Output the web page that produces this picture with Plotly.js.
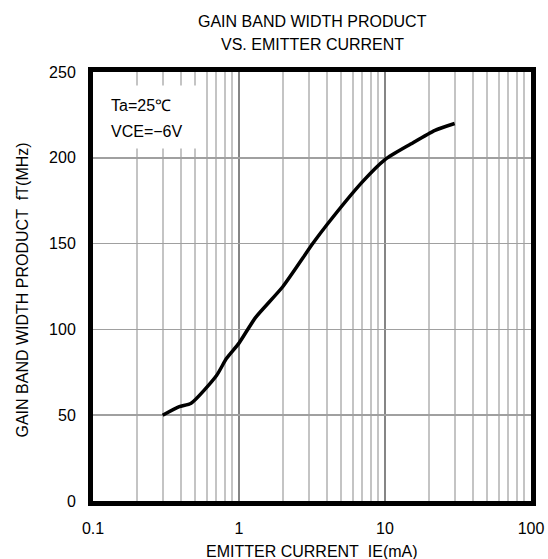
<!DOCTYPE html>
<html>
<head>
<meta charset="utf-8">
<script src="https://cdn.plot.ly/plotly-3.0.1.min.js"></script>
<style>html,body{margin:0;padding:0;background:#fff;}#chart{width:548px;height:559px;}</style>
</head>
<body>
<div id="chart"></div>
<script>
// Emitter current IE (mA)
const emitterCurrent = [0.3, 0.39, 0.47, 0.7, 0.82, 1.0, 1.3, 2.0, 3.2, 4.0, 7.0, 10, 15, 22, 30];
// Gain bandwidth product fT (MHz)
const gainBandwidth = [50, 55, 57, 73, 83, 92, 107, 125, 150, 161, 186, 199, 208, 216, 220];
const xTickVals = [0.1, 1, 10, 100];
const xTickText = ['0.1', '1', '10', '100'];
const yTickVals = [0, 50, 100, 150, 200, 250];
const titleLines = ['GAIN BAND WIDTH PRODUCT', 'VS. EMITTER CURRENT'];
const conditionLines = ['Ta=25\u2103', 'VCE=\u22126V'];
const xTitle = 'EMITTER CURRENT\u00a0\u00a0IE(mA)';
const yTitle = 'GAIN BAND WIDTH PRODUCT\u00a0\u00a0fT(MHz)';

const font = {family: 'Liberation Sans, Arial, sans-serif', size: 16, color: '#000'};

const trace = {
  x: emitterCurrent, y: gainBandwidth, type: 'scatter', mode: 'lines',
  line: {color: '#000', width: 3.5, shape: 'spline', smoothing: 0.6},
  hoverinfo: 'skip'
};

const layout = {
  width: 548, height: 559,
  margin: {l: 93, r: 17, t: 72, b: 58},
  paper_bgcolor: '#fff', plot_bgcolor: '#fff',
  showlegend: false,
  font: font,
  xaxis: {
    type: 'log', range: [-1, 2],
    tickvals: xTickVals, ticktext: xTickText,
    ticks: '', ticklabelstandoff: 9,
    showgrid: true, gridcolor: '#858585', gridwidth: 2,
    minor: {dtick: 'D1', showgrid: true, gridcolor: '#c4c4c4', gridwidth: 2, ticks: ''},
    showline: true, linecolor: '#000', linewidth: 5, mirror: true,
    zeroline: false, tickfont: font, fixedrange: true
  },
  yaxis: {
    range: [0, 250], tickvals: yTickVals,
    ticks: '', ticklabelstandoff: 9,
    showgrid: true, gridcolor: '#a0a0a0', gridwidth: 1.5,
    showline: true, linecolor: '#000', linewidth: 5, mirror: true,
    zeroline: false, tickfont: font, fixedrange: true
  },
  annotations: [
    {xref: 'paper', yref: 'paper', x: 0.5, y: 1, yshift: 51, xanchor: 'center', yanchor: 'middle',
     text: titleLines[0], showarrow: false, font: font},
    {xref: 'paper', yref: 'paper', x: 0.5, y: 1, yshift: 28, xanchor: 'center', yanchor: 'middle',
     text: titleLines[1], showarrow: false, font: font},
    {xref: 'paper', yref: 'paper', x: 0.5, y: 0, yshift: -50, xanchor: 'center', yanchor: 'middle',
     text: xTitle, showarrow: false, font: font},
    {xref: 'paper', yref: 'paper', x: 0, y: 0.5, xshift: -71, yshift: -4, xanchor: 'center', yanchor: 'middle',
     text: yTitle, textangle: -90, showarrow: false, font: font},
    // white box behind conditions
    {xref: 'paper', yref: 'paper', x: 0, y: 1, xshift: 3, yshift: -13, xanchor: 'left', yanchor: 'top',
     text: ' ', width: 104, height: 60, bgcolor: '#fff', showarrow: false, font: font},
    {xref: 'paper', yref: 'paper', x: 0, y: 1, xshift: 16, yshift: -33, xanchor: 'left', yanchor: 'middle',
     text: conditionLines[0], showarrow: false, font: font},
    {xref: 'paper', yref: 'paper', x: 0, y: 1, xshift: 16, yshift: -59, xanchor: 'left', yanchor: 'middle',
     text: conditionLines[1], showarrow: false, font: font}
  ]
};

Plotly.newPlot('chart', [trace], layout, {staticPlot: true, displayModeBar: false});
</script>
</body>
</html>
